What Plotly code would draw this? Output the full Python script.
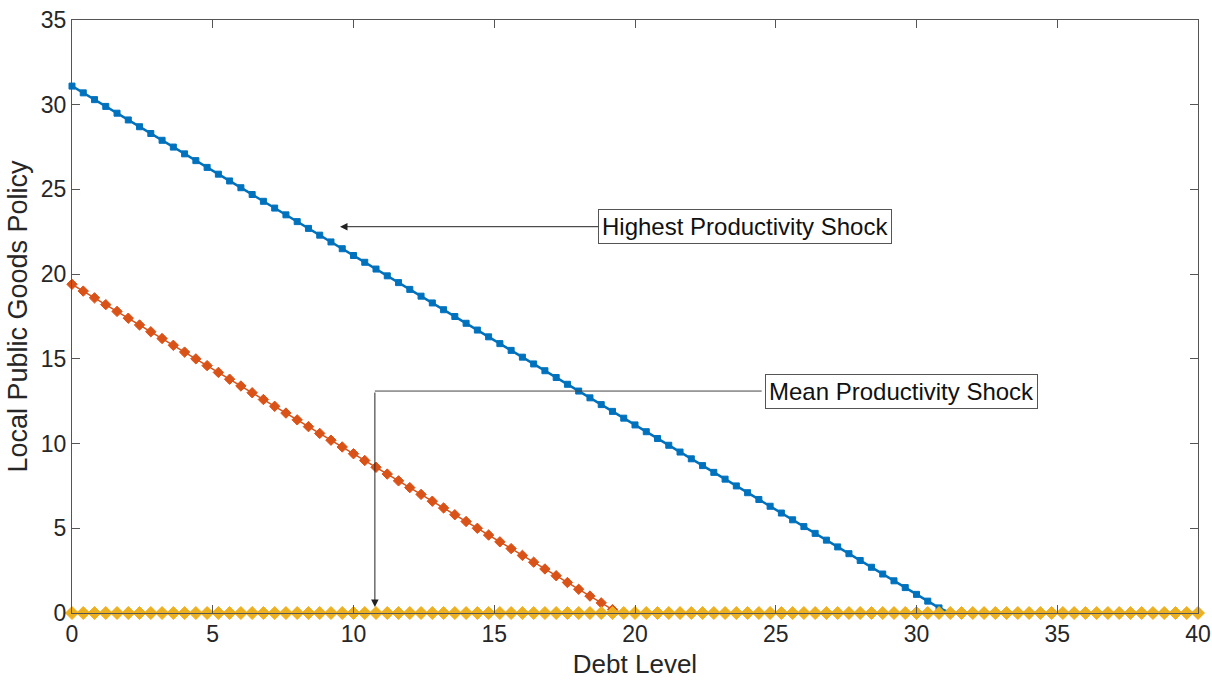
import plotly.graph_objects as go

debt_level = [
    0.0, 0.4, 0.8, 1.2, 1.6, 2.0, 2.4, 2.8, 3.2, 3.6,
    4.0, 4.4, 4.8, 5.2, 5.6, 6.0, 6.4, 6.8, 7.2, 7.6,
    8.0, 8.4, 8.8, 9.2, 9.6, 10.0, 10.4, 10.8, 11.2, 11.6,
    12.0, 12.4, 12.8, 13.2, 13.6, 14.0, 14.4, 14.8, 15.2, 15.6,
    16.0, 16.4, 16.8, 17.2, 17.6, 18.0, 18.4, 18.8, 19.2, 19.6,
    20.0, 20.4, 20.8, 21.2, 21.6, 22.0, 22.4, 22.8, 23.2, 23.6,
    24.0, 24.4, 24.8, 25.2, 25.6, 26.0, 26.4, 26.8, 27.2, 27.6,
    28.0, 28.4, 28.8, 29.2, 29.6, 30.0, 30.4, 30.8, 31.2, 31.6,
    32.0, 32.4, 32.8, 33.2, 33.6, 34.0, 34.4, 34.8, 35.2, 35.6,
    36.0, 36.4, 36.8, 37.2, 37.6, 38.0, 38.4, 38.8, 39.2, 39.6,
    40.0,
]

highest_shock = [
    31.1, 30.7, 30.3, 29.9, 29.5, 29.1, 28.7, 28.3, 27.9, 27.5,
    27.1, 26.7, 26.3, 25.9, 25.5, 25.1, 24.7, 24.3, 23.9, 23.5,
    23.1, 22.7, 22.3, 21.9, 21.5, 21.1, 20.7, 20.3, 19.9, 19.5,
    19.1, 18.7, 18.3, 17.9, 17.5, 17.1, 16.7, 16.3, 15.9, 15.5,
    15.1, 14.7, 14.3, 13.9, 13.5, 13.1, 12.7, 12.3, 11.9, 11.5,
    11.1, 10.7, 10.3, 9.9, 9.5, 9.1, 8.7, 8.3, 7.9, 7.5,
    7.1, 6.7, 6.3, 5.9, 5.5, 5.1, 4.7, 4.3, 3.9, 3.5,
    3.1, 2.7, 2.3, 1.9, 1.5, 1.1, 0.7, 0.3, 0.0, 0.0,
    0.0, 0.0, 0.0, 0.0, 0.0, 0.0, 0.0, 0.0, 0.0, 0.0,
    0.0, 0.0, 0.0, 0.0, 0.0, 0.0, 0.0, 0.0, 0.0, 0.0,
    0.0,
]

mean_shock = [
    19.4, 19.0, 18.6, 18.2, 17.8, 17.4, 17.0, 16.6, 16.2, 15.8,
    15.4, 15.0, 14.6, 14.2, 13.8, 13.4, 13.0, 12.6, 12.2, 11.8,
    11.4, 11.0, 10.6, 10.2, 9.8, 9.4, 9.0, 8.6, 8.2, 7.8,
    7.4, 7.0, 6.6, 6.2, 5.8, 5.4, 5.0, 4.6, 4.2, 3.8,
    3.4, 3.0, 2.6, 2.2, 1.8, 1.4, 1.0, 0.6, 0.2, 0.0,
    0.0, 0.0, 0.0, 0.0, 0.0, 0.0, 0.0, 0.0, 0.0, 0.0,
    0.0, 0.0, 0.0, 0.0, 0.0, 0.0, 0.0, 0.0, 0.0, 0.0,
    0.0, 0.0, 0.0, 0.0, 0.0, 0.0, 0.0, 0.0, 0.0, 0.0,
    0.0, 0.0, 0.0, 0.0, 0.0, 0.0, 0.0, 0.0, 0.0, 0.0,
    0.0, 0.0, 0.0, 0.0, 0.0, 0.0, 0.0, 0.0, 0.0, 0.0,
    0.0,
]

lowest_shock = [
    0.0, 0.0, 0.0, 0.0, 0.0, 0.0, 0.0, 0.0, 0.0, 0.0,
    0.0, 0.0, 0.0, 0.0, 0.0, 0.0, 0.0, 0.0, 0.0, 0.0,
    0.0, 0.0, 0.0, 0.0, 0.0, 0.0, 0.0, 0.0, 0.0, 0.0,
    0.0, 0.0, 0.0, 0.0, 0.0, 0.0, 0.0, 0.0, 0.0, 0.0,
    0.0, 0.0, 0.0, 0.0, 0.0, 0.0, 0.0, 0.0, 0.0, 0.0,
    0.0, 0.0, 0.0, 0.0, 0.0, 0.0, 0.0, 0.0, 0.0, 0.0,
    0.0, 0.0, 0.0, 0.0, 0.0, 0.0, 0.0, 0.0, 0.0, 0.0,
    0.0, 0.0, 0.0, 0.0, 0.0, 0.0, 0.0, 0.0, 0.0, 0.0,
    0.0, 0.0, 0.0, 0.0, 0.0, 0.0, 0.0, 0.0, 0.0, 0.0,
    0.0, 0.0, 0.0, 0.0, 0.0, 0.0, 0.0, 0.0, 0.0, 0.0,
    0.0,
]

x_ticks = [0, 5, 10, 15, 20, 25, 30, 35, 40]
y_ticks = [0, 5, 10, 15, 20, 25, 30, 35]

FONT = "Liberation Sans, Arial, Helvetica, sans-serif"
BLUE = "#0072BD"
ORANGE = "#D95319"
YELLOW = "#EDB120"

fig = go.Figure()
fig.add_trace(go.Scatter(
    x=debt_level, y=highest_shock, mode="lines+markers",
    line=dict(color=BLUE, width=2.5),
    marker=dict(symbol="square", size=6, color=BLUE,
                line=dict(color=BLUE, width=1)),
    cliponaxis=False, showlegend=False,
))
fig.add_trace(go.Scatter(
    x=debt_level, y=mean_shock, mode="lines+markers",
    line=dict(color=ORANGE, width=1.5),
    marker=dict(symbol="diamond", size=8, color=ORANGE,
                line=dict(color=ORANGE, width=1)),
    cliponaxis=False, showlegend=False,
))
fig.add_trace(go.Scatter(
    x=debt_level, y=lowest_shock, mode="lines+markers",
    line=dict(color=YELLOW, width=1.5),
    marker=dict(symbol="diamond", size=10, color=YELLOW,
                line=dict(color=YELLOW, width=1)),
    cliponaxis=False, showlegend=False,
))

axis_common = dict(
    showgrid=False, zeroline=False, showline=True, mirror="ticks",
    linecolor="#555555", linewidth=1, ticks="inside", ticklen=8,
    tickcolor="#555555", tickwidth=1, automargin=False,
    ticklabeloverflow="allow",
    tickfont=dict(family=FONT, size=23, color="#262626"),
)

fig.update_xaxes(range=[0, 40], tickvals=x_ticks,
                 title=dict(text="Debt Level", font=dict(family=FONT, size=26, color="#262626"), standoff=9),
                 **axis_common)
fig.update_yaxes(range=[0, 35], tickvals=y_ticks,
                 title=dict(text="Local Public Goods Policy", font=dict(family=FONT, size=27, color="#262626"), standoff=5),
                 **axis_common)

box_style = dict(
    font=dict(family=FONT, size=24, color="#111111"),
    bgcolor="white", bordercolor="#555555", borderwidth=1, borderpad=3,
)

fig.add_annotation(
    x=9.52, y=22.8, xref="x", yref="y",
    ax=23.9, ay=22.8, axref="x", ayref="y",
    text="Highest Productivity Shock", showarrow=True,
    arrowhead=2, arrowsize=1.5, arrowwidth=1, arrowcolor="#222222",
    **box_style,
)

fig.add_shape(type="line", xref="x", yref="y",
              x0=10.76, y0=13.1, x1=24.5, y1=13.1,
              line=dict(color="#444444", width=1))
fig.add_annotation(
    x=10.76, y=0.35, xref="x", yref="y",
    ax=10.76, ay=13.1, axref="x", ayref="y",
    text="", showarrow=True,
    arrowhead=2, arrowsize=1.5, arrowwidth=1, arrowcolor="#222222",
)
fig.add_annotation(
    x=29.47, y=13.1, xref="x", yref="y",
    text="Mean Productivity Shock", showarrow=False,
    **box_style,
)

fig.update_layout(
    width=1212, height=685,
    margin=dict(l=72, r=14, t=20, b=72),
    paper_bgcolor="white", plot_bgcolor="white",
    font=dict(family=FONT),
)

fig.write_html("out.html", config={"displayModeBar": False},
               post_script="document.body.style.margin='0';document.body.style.overflow='hidden';")
